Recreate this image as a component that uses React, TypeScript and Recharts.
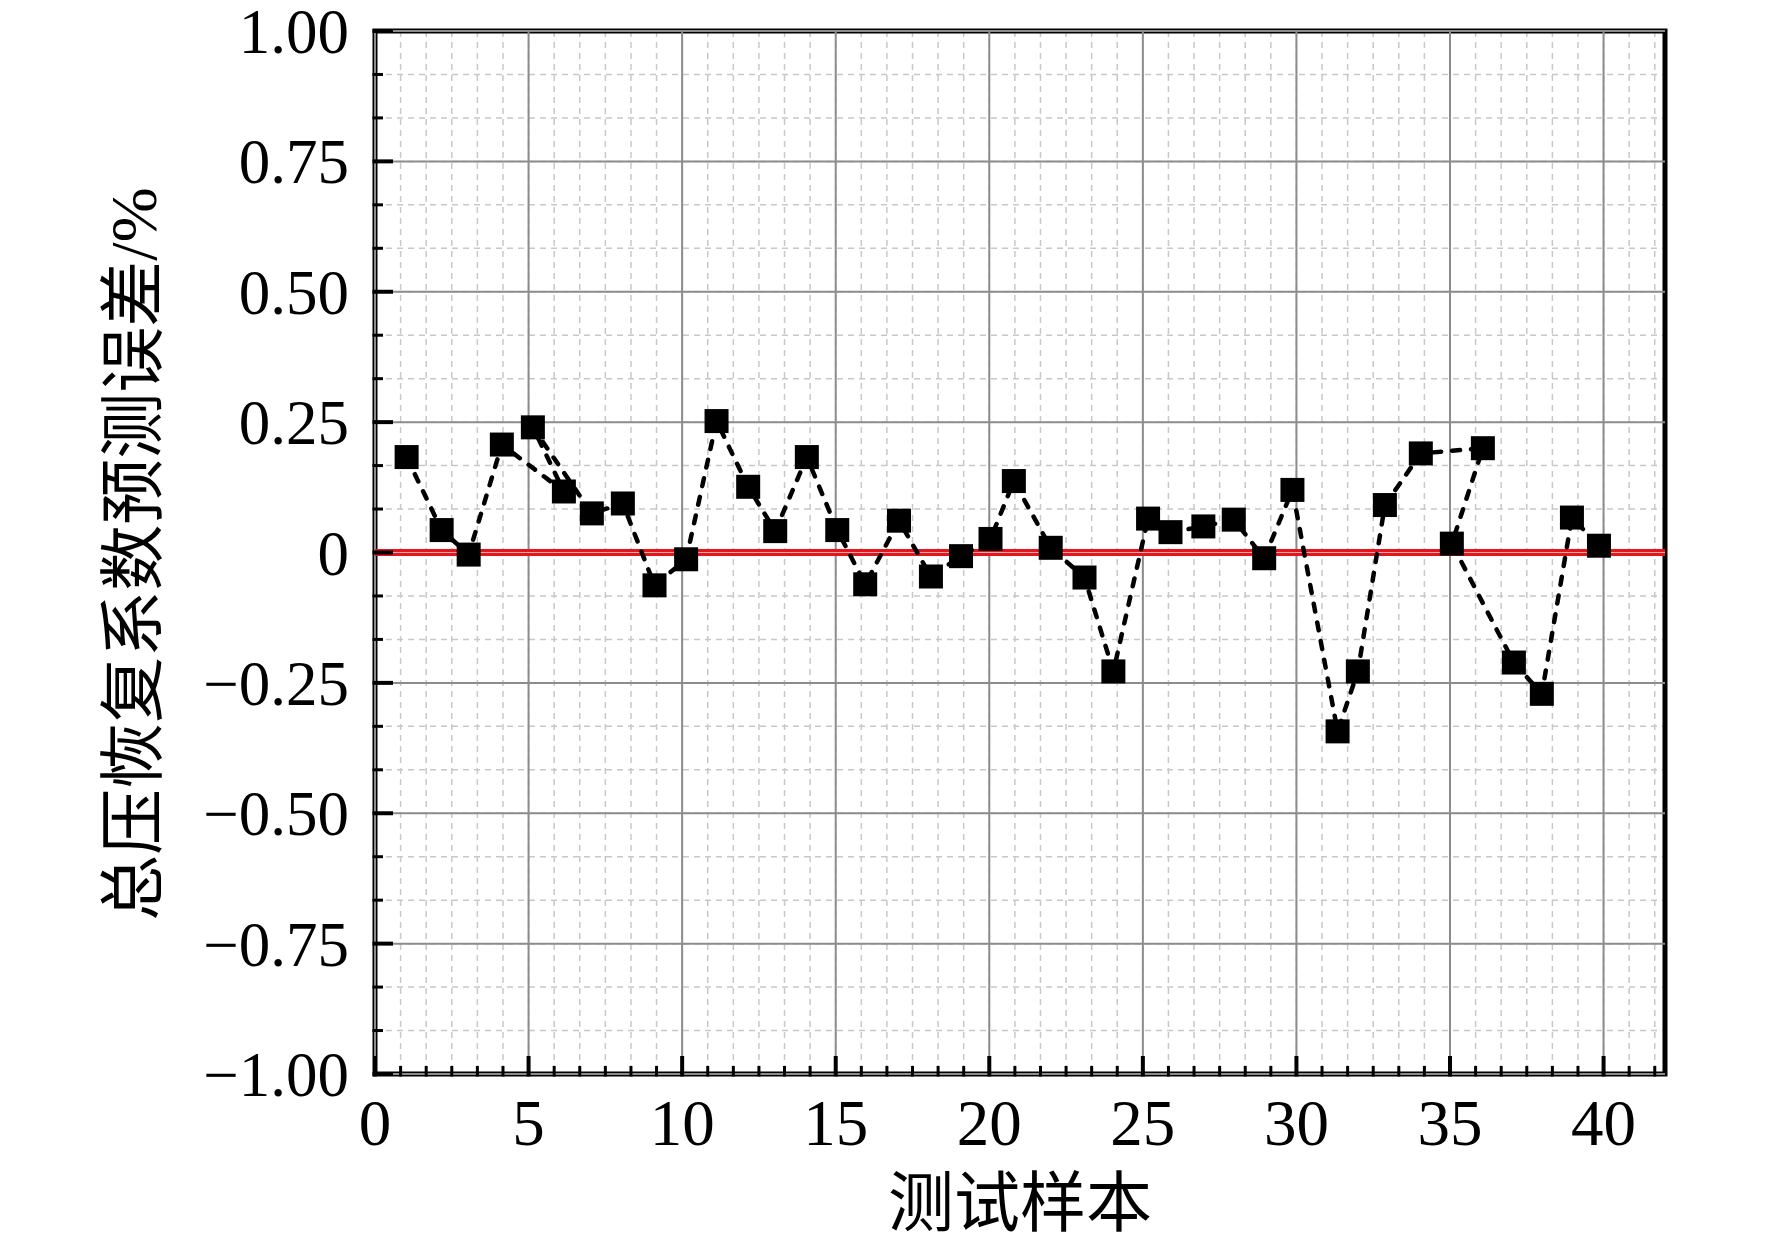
import {
  CartesianGrid,
  ComposedChart,
  Line,
  ReferenceArea,
  ReferenceLine,
  XAxis,
  YAxis,
} from "recharts";

// samples in the order the dashed line joins them (6 before 5, 36 before 35)
const sampleX = [
  1.03, 2.17, 3.05, 4.13, 6.15, 5.14, 7.06, 8.07, 9.1, 10.13,
  11.12, 12.15, 13.03, 14.06, 15.05, 15.96, 17.06, 18.1, 19.08, 20.04,
  20.8, 22.0, 23.1, 24.04, 25.17, 25.9, 26.97, 27.96, 28.95, 29.87,
  31.34, 32.0, 32.88, 34.05, 36.07, 35.06, 37.08, 37.99, 38.97, 39.85,
];
const errorY = [
  0.183, 0.043, -0.004, 0.207, 0.117, 0.24, 0.075, 0.094, -0.063, -0.013,
  0.252, 0.126, 0.041, 0.183, 0.043, -0.061, 0.061, -0.046, -0.007, 0.026,
  0.137, 0.009, -0.048, -0.228, 0.065, 0.039, 0.05, 0.063, -0.011, 0.12,
  -0.343, -0.228, 0.091, 0.19, 0.2, 0.017, -0.211, -0.271, 0.067, 0.013,
];

const majorX = [0, 5, 10, 15, 20, 25, 30, 35, 40];
const majorY = [-1, -0.75, -0.5, -0.25, 0, 0.25, 0.5, 0.75, 1];
// minor ticks: 6 steps between x labels, 3 steps between y labels
const minorX = Array.from({ length: 51 }, (_, k) => (k * 5) / 6);
const minorY = Array.from({ length: 25 }, (_, k) => (k - 12) / 12);

const xTitle = "测试样本";
const yTitle = "总压恢复系数预测误差/%";

const data = sampleX.map((x, i) => ({ x, y: errorY[i] }));

const FONT = "'Liberation Serif', 'Noto Sans CJK SC', serif";
const W = 1756;
const H = 1232;

const isMajor = (v: number, step: number) =>
  Math.abs(v / step - Math.round(v / step)) < 1e-6;

const fmtY = (v: number) =>
  Math.abs(v) < 1e-9 ? "0" : v.toFixed(2).replace("-", "\u2212");

function XTick({ x, y, payload }: any) {
  const major = isMajor(payload.value, 5);
  return (
    <g>
      <line
        x1={x}
        x2={x}
        y1={y + 2.5}
        y2={y - (major ? 18 : 8)}
        stroke="#000"
        strokeWidth={major ? 4 : 3}
      />
      {major && (
        <text
          x={x}
          y={y + 71}
          textAnchor="middle"
          fontFamily={FONT}
          fontSize={65}
          fill="#000"
        >
          {Math.round(payload.value)}
        </text>
      )}
    </g>
  );
}

function YTick({ x, y, payload }: any) {
  const major = isMajor(payload.value, 0.25);
  return (
    <g>
      <line
        x1={x - 2.5}
        x2={x + (major ? 18 : 8)}
        y1={y}
        y2={y}
        stroke="#000"
        strokeWidth={major ? 4 : 3}
      />
      {major && (
        <text
          x={x - 26}
          y={y + 22}
          textAnchor="end"
          fontFamily={FONT}
          fontSize={63}
          fill="#000"
        >
          {fmtY(payload.value)}
        </text>
      )}
    </g>
  );
}

const squareDot = (p: any) => (
  <rect
    key={`dot-${p.index}`}
    x={p.cx - 12}
    y={p.cy - 12}
    width={24}
    height={24}
    fill="#000"
  />
);

export default function App() {
  return (
    <div style={{ position: "relative", width: W, height: H, background: "#fff" }}>
      <ComposedChart
        width={W}
        height={H}
        data={data}
        style={{ overflow: "visible" }}
        margin={{ top: 23, right: 99, bottom: 0, left: 0 }}
      >
        <CartesianGrid
          stroke="#c8c8c8"
          strokeDasharray="6 5"
          strokeWidth={1.5}
        />
        <XAxis
          type="number"
          dataKey="x"
          domain={[0, 42]}
          ticks={minorX}
          interval={0}
          allowDataOverflow
          height={166}
          tickSize={0}
          tickMargin={0}
          tickLine={false}
          axisLine={false}
          tick={(props: any) => <XTick {...props} />}
        />
        <YAxis
          type="number"
          domain={[-1, 1]}
          ticks={minorY}
          interval={0}
          allowDataOverflow
          width={367}
          tickSize={0}
          tickMargin={0}
          tickLine={false}
          axisLine={false}
          tick={(props: any) => <YTick {...props} />}
        />
        {majorX.map((v) => (
          <ReferenceLine key={`gx${v}`} x={v} stroke="#8c8c8c" strokeWidth={2} />
        ))}
        {majorY.map((v) => (
          <ReferenceLine key={`gy${v}`} y={v} stroke="#8c8c8c" strokeWidth={2} />
        ))}
        <ReferenceLine y={0} stroke="#e3161d" strokeWidth={7} />
        <ReferenceLine y={0} stroke="#f4a8a8" strokeWidth={1} />
        <Line
          type="linear"
          dataKey="y"
          stroke="#000"
          strokeWidth={4.5}
          strokeDasharray="8 11"
          strokeLinecap="round"
          dot={squareDot}
          activeDot={false}
          isAnimationActive={false}
        />
        <ReferenceArea
          x1={0}
          x2={42}
          y1={-1}
          y2={1}
          fill="none"
          fillOpacity={0}
          stroke="#000"
          strokeWidth={5}
        />
      </ComposedChart>
      <div
        style={{
          position: "absolute",
          left: 1012,
          top: 1196,
          transform: "translate(-50%, -50%)",
          fontFamily: FONT,
          fontSize: 66,
          lineHeight: 1,
          whiteSpace: "nowrap",
          color: "#000",
        }}
      >
        {xTitle}
      </div>
      <div
        style={{
          position: "absolute",
          left: 126,
          top: 546,
          transform: "translate(-50%, -50%) rotate(-90deg)",
          fontFamily: FONT,
          fontSize: 66,
          lineHeight: 1,
          whiteSpace: "nowrap",
          color: "#000",
        }}
      >
        {yTitle}
      </div>
    </div>
  );
}
